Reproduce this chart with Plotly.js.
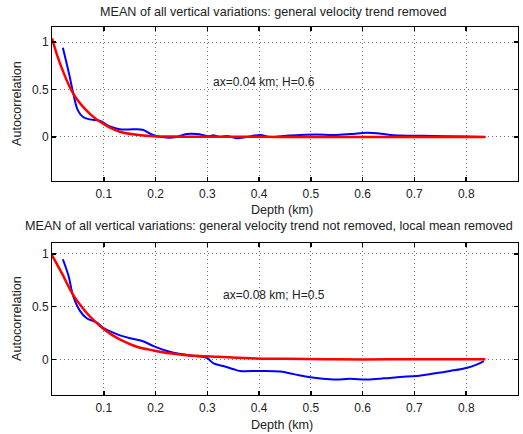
<!DOCTYPE html>
<html><head><meta charset="utf-8">
<script src="https://cdn.plot.ly/plotly-3.0.1.min.js"></script>
<style>body{margin:0;background:#fff}#c{width:523px;height:434px}</style>
</head><body><div id="c"></div>
<script>
// Top panel: general velocity trend removed
const topBlueX = [0.021,0.034,0.041,0.05,0.06,0.073,0.092,0.112,0.131,0.157,0.175,0.195,0.221,0.241,0.26,0.28,0.305,0.311,0.324,0.337,0.357,0.376,0.402,0.421,0.447,0.479,0.511,0.544,0.576,0.608,0.627,0.653,0.672,0.737,0.801,0.837];
const topBlueY = [0.94,0.64,0.46,0.28,0.21,0.185,0.17,0.11,0.08,0.08,0.075,0.02,-0.007,0,0.03,0.03,0.008,0.018,0,0.01,-0.013,0,0.02,0,0.01,0.02,0.025,0.02,0.03,0.045,0.04,0.02,0.015,0.01,0.005,0];
const topRedX = [0.0,0.01,0.02,0.034,0.042,0.05,0.058,0.0665,0.075,0.085,0.099,0.115,0.131,0.16,0.195,0.25,0.3,0.4,0.5,0.6,0.7,0.837];
const topRedY = [1.04,0.86,0.71,0.53,0.45,0.385,0.33,0.28,0.235,0.19,0.14,0.09,0.055,0.025,0.008,0.003,0.002,0.001,0.0,0.0,0.0,0.0];
// Bottom panel: general velocity trend not removed, local mean removed
const botBlueX = [0.021,0.032,0.041,0.054,0.067,0.086,0.099,0.125,0.151,0.177,0.196,0.222,0.248,0.28,0.299,0.312,0.331,0.351,0.363,0.402,0.441,0.467,0.499,0.544,0.576,0.609,0.641,0.673,0.705,0.737,0.769,0.802,0.821,0.834];
const botBlueY = [0.95,0.79,0.60,0.46,0.39,0.35,0.30,0.24,0.20,0.17,0.125,0.08,0.05,0.03,0.015,-0.038,-0.063,-0.094,-0.11,-0.11,-0.116,-0.14,-0.17,-0.19,-0.185,-0.19,-0.18,-0.167,-0.157,-0.135,-0.11,-0.079,-0.047,-0.016];
const botRedX = [0.0,0.011,0.022,0.031,0.041,0.054,0.067,0.083,0.099,0.115,0.131,0.164,0.196,0.228,0.26,0.299,0.383,0.45,0.544,0.65,0.75,0.837];
const botRedY = [0.99,0.89,0.79,0.70,0.61,0.52,0.44,0.36,0.29,0.235,0.19,0.12,0.085,0.057,0.04,0.03,0.01,0.005,0.0,0.0,0.0,0.0];
const topTicks = [0.1,0.2,0.3,0.4,0.5,0.6,0.7,0.8];
const botTicks = [0.1,0.2,0.3,0.4,0.5,0.6,0.7,0.8,0.9];
const yTicks = [0,0.5,1];

const F = 'Liberation Sans, Arial, sans-serif';
const traces = [
  {x: topBlueX, y: topBlueY, xaxis:'x', yaxis:'y', mode:'lines', line:{color:'#0000ff', width:2, shape:'spline'}},
  {x: topRedX, y: topRedY, xaxis:'x', yaxis:'y', mode:'lines', line:{color:'#ff0000', width:2.5, shape:'spline'}},
  {x: botBlueX, y: botBlueY, xaxis:'x2', yaxis:'y2', mode:'lines', line:{color:'#0000ff', width:2, shape:'spline'}},
  {x: botRedX, y: botRedY, xaxis:'x2', yaxis:'y2', mode:'lines', line:{color:'#ff0000', width:2.5, shape:'spline'}}
];
const ax = {showline:true, linecolor:'#000', linewidth:1, mirror:'ticks', ticks:'inside', ticklen:4, tickwidth:1.5, tickcolor:'#000',
  showgrid:true, gridcolor:'#777', griddash:'1px,3px', gridwidth:1, zeroline:false, tickfont:{family:F, size:12, color:'#222'}};
const ann = (text, x, y, size, extra) => Object.assign({text, xref:'paper', yref:'paper', x, y, xanchor:'center', yanchor:'middle', showarrow:false, font:{family:F, size, color:'#222'}}, extra||{});
const layout = {
  width:523, height:434, showlegend:false, paper_bgcolor:'#fff', plot_bgcolor:'#fff',
  margin:{l:52, r:5, t:0, b:0},
  font:{family:F, size:12, color:'#222'},
  xaxis: Object.assign({}, ax, {range:[0,0.9], tickvals: topTicks, ticktext: topTicks.map(String), domain:[0,1], anchor:'y', ticklabelstandoff:2}),
  yaxis: Object.assign({}, ax, {range:[-0.465,1.16], tickvals: yTicks, ticktext: yTicks.map(String), domain:[1-181/434, 1-27/434], anchor:'x'}),
  xaxis2: Object.assign({}, ax, {range:[0,0.9], tickvals: botTicks, ticktext: botTicks.map(String), domain:[0,1], anchor:'y2', ticklabelstandoff:2}),
  yaxis2: Object.assign({}, ax, {range:[-0.338,1.104], tickvals: yTicks, ticktext: yTicks.map(String), domain:[1-395/434, 1-243/434], anchor:'x2'}),
  annotations: [
    ann('MEAN of all vertical variations: general velocity trend removed', (273-52)/466, 1-12/434, 12.6),
    ann('MEAN of all vertical variations: general velocity trend not removed, local mean removed', (269-52)/466, 1-226/434, 12.6),
    ann('Depth (km)', (282-52)/466, 1-210/434, 12.6),
    ann('Depth (km)', (282-52)/466, 1-425/434, 12.6),
    ann('Autocorrelation', (17-52)/466, 1-104/434, 12.6, {textangle:-90}),
    ann('Autocorrelation', (17-52)/466, 1-319/434, 12.6, {textangle:-90}),
    {text:'ax=0.04 km; H=0.6', xref:'x', yref:'y', x:0.409, y:0.58, xanchor:'center', yanchor:'middle', showarrow:false, font:{family:F,size:12,color:'#222'}},
    {text:'ax=0.08 km; H=0.5', xref:'x2', yref:'y2', x:0.429, y:0.615, xanchor:'center', yanchor:'middle', showarrow:false, font:{family:F,size:12,color:'#222'}}
  ]
};
Plotly.newPlot('c', traces, layout, {staticPlot:true, displayModeBar:false});
</script></body></html>
